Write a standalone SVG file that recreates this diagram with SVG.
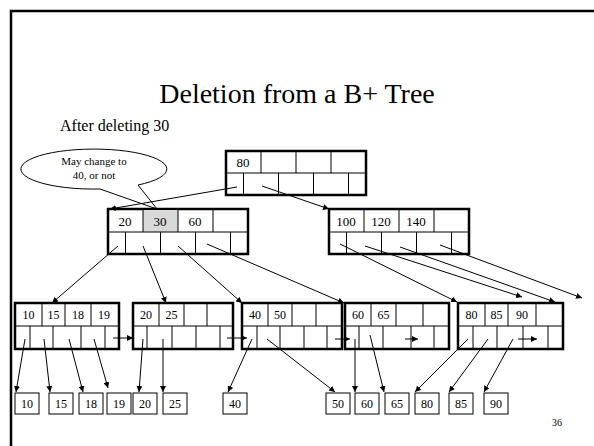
<svg xmlns="http://www.w3.org/2000/svg" width="594" height="446" viewBox="0 0 594 446">
<defs>
<style>
text{font-family:"Liberation Serif","Times New Roman",serif;fill:#000}
.k{font-size:12px;text-anchor:middle}
.ik{font-size:13px;text-anchor:middle}
.box{fill:#fff;stroke:#000;stroke-width:2.5}
.div{stroke:#000;stroke-width:1;fill:none}
.rec{fill:#fff;stroke:#000;stroke-width:1}
.c{stroke:#000;stroke-width:1;fill:none;marker-end:url(#ah)}
</style>
<marker id="ah" viewBox="0 0 10 10" refX="10" refY="5" markerWidth="6" markerHeight="6" markerUnits="userSpaceOnUse" orient="auto">
<path d="M0,0 L10,5 L0,10 z" fill="#000"/>
</marker>
</defs>
<rect width="594" height="446" fill="#fff"/>
<path d="M11,446 V11 H594" fill="none" stroke="#000" stroke-width="2.5"/>
<text x="297" y="103" style="font-size:28px" text-anchor="middle">Deletion from a B+ Tree</text>
<text x="60" y="131" style="font-size:16px">After deleting 30</text>

<g id="callout">
<path d="M138,185 L157,209 L100,189 A73,20 0 1 1 138,185 Z" fill="#fff" stroke="#000" stroke-width="1"/>
<text x="94" y="165" style="font-size:11px" text-anchor="middle">May change to</text>
<text x="94" y="179" style="font-size:11px" text-anchor="middle">40, or not</text>
</g>

<g id="root">
<rect class="box" x="226" y="151" width="140" height="44"/>
<path class="div" d="M226,173 H366 M261,151 V173 M296,151 V173 M331,151 V173 M243.5,173 V195 M278.5,173 V195 M313.5,173 V195 M348.5,173 V195"/>
<text class="ik" x="243" y="167">80</text>
</g>

<g id="inner-left">
<rect class="box" x="108" y="209" width="140" height="45"/>
<rect x="143" y="210" width="35" height="22" fill="#d9d9d9"/>
<path class="div" d="M108,232 H248 M143,209 V232 M178,209 V232 M213,209 V232 M125.5,232 V254 M160.5,232 V254 M195.5,232 V254 M230.5,232 V254"/>
<text class="ik" x="125" y="226">20</text>
<text class="ik" x="160" y="226">30</text>
<text class="ik" x="195" y="226">60</text>
</g>

<g id="inner-right">
<rect class="box" x="329" y="209" width="140" height="45"/>
<path class="div" d="M329,232 H469 M364,209 V232 M399,209 V232 M434,209 V232 M346.5,232 V254 M381.5,232 V254 M416.5,232 V254 M451.5,232 V254"/>
<text class="ik" x="346" y="226">100</text>
<text class="ik" x="381" y="226">120</text>
<text class="ik" x="416" y="226">140</text>
</g>

<g id="leaf1">
<rect class="box" x="15" y="303" width="104" height="46"/>
<path class="div" d="M15,326 H119 M42,303 V326 M65,303 V326 M91,303 V326 M30,326 V349 M53,326 V349 M81,326 V349 M105,326 V349"/>
<text class="k" x="28.5" y="319">10</text>
<text class="k" x="53.5" y="319">15</text>
<text class="k" x="78" y="319">18</text>
<text class="k" x="104" y="319">19</text>
</g>
<g id="leaf2">
<rect class="box" x="133" y="303" width="100" height="46"/>
<path class="div" d="M133,326 H233 M159,303 V326 M184,303 V326 M207,303 V326 M147,326 V349 M172,326 V349 M196,326 V349 M220,326 V349"/>
<text class="k" x="146" y="319">20</text>
<text class="k" x="171.5" y="319">25</text>
</g>
<g id="leaf3">
<rect class="box" x="242" y="303" width="100" height="46"/>
<path class="div" d="M242,326 H342 M268,303 V326 M292,303 V326 M316,303 V326 M257,326 V349 M280,326 V349 M304,326 V349 M327,326 V349"/>
<text class="k" x="255" y="319">40</text>
<text class="k" x="280" y="319">50</text>
</g>
<g id="leaf4">
<rect class="box" x="345" y="303" width="104" height="46"/>
<path class="div" d="M345,326 H449 M371,303 V326 M396,303 V326 M423,303 V326 M359,326 V349 M383,326 V349 M411,326 V349 M434,326 V349"/>
<text class="k" x="358" y="319">60</text>
<text class="k" x="383.5" y="319">65</text>
</g>
<g id="leaf5">
<rect class="box" x="458" y="303" width="105" height="46"/>
<path class="div" d="M458,326 H563 M485,303 V326 M508,303 V326 M536,303 V326 M473,326 V349 M497,326 V349 M523,326 V349 M548,326 V349"/>
<text class="k" x="471.5" y="319">80</text>
<text class="k" x="496.5" y="319">85</text>
<text class="k" x="522" y="319">90</text>
</g>

<g id="records">
<g id="r10"><rect class="rec" x="15" y="393" width="24" height="21"/><text class="k" x="27" y="408">10</text></g>
<g id="r15"><rect class="rec" x="49" y="393" width="24" height="21"/><text class="k" x="61" y="408">15</text></g>
<g id="r18"><rect class="rec" x="79" y="393" width="24" height="21"/><text class="k" x="91" y="408">18</text></g>
<g id="r19"><rect class="rec" x="107" y="393" width="24" height="21"/><text class="k" x="119" y="408">19</text></g>
<g id="r20"><rect class="rec" x="133" y="393" width="24" height="21"/><text class="k" x="145" y="408">20</text></g>
<g id="r25"><rect class="rec" x="163" y="393" width="24" height="21"/><text class="k" x="175" y="408">25</text></g>
<g id="r40"><rect class="rec" x="223" y="393" width="24" height="21"/><text class="k" x="235" y="408">40</text></g>
<g id="r50"><rect class="rec" x="326" y="393" width="24" height="21"/><text class="k" x="338" y="408">50</text></g>
<g id="r60"><rect class="rec" x="355" y="393" width="24" height="21"/><text class="k" x="367" y="408">60</text></g>
<g id="r65"><rect class="rec" x="385" y="393" width="24" height="21"/><text class="k" x="397" y="408">65</text></g>
<g id="r80"><rect class="rec" x="415" y="393" width="24" height="21"/><text class="k" x="427" y="408">80</text></g>
<g id="r85"><rect class="rec" x="449" y="393" width="24" height="21"/><text class="k" x="461" y="408">85</text></g>
<g id="r90"><rect class="rec" x="484" y="393" width="24" height="21"/><text class="k" x="496" y="408">90</text></g>
</g>

<g id="connectors">
<line class="c" x1="237" y1="187" x2="110" y2="209"/>
<line class="c" x1="262" y1="186" x2="329" y2="209"/>
<line class="c" x1="118" y1="246" x2="52" y2="303"/>
<line class="c" x1="143" y1="246" x2="166" y2="303"/>
<line class="c" x1="178" y1="246" x2="242" y2="303"/>
<line class="c" x1="207" y1="244" x2="344" y2="303"/>
<line class="c" x1="340" y1="244" x2="457" y2="302"/>
<line class="c" x1="365" y1="246" x2="522" y2="297"/>
<line class="c" x1="400" y1="247" x2="555" y2="302"/>
<line class="c" x1="440" y1="245" x2="582" y2="298"/>
<line class="c" x1="25" y1="339" x2="16" y2="392"/>
<line class="c" x1="44" y1="339" x2="50" y2="392"/>
<line class="c" x1="69" y1="339" x2="83" y2="392"/>
<line class="c" x1="94" y1="339" x2="108" y2="388"/>
<line class="c" x1="143" y1="339" x2="139" y2="392"/>
<line class="c" x1="163" y1="339" x2="163" y2="392"/>
<line class="c" x1="252" y1="339" x2="228" y2="392"/>
<line class="c" x1="267" y1="339" x2="335" y2="392"/>
<line class="c" x1="355" y1="339" x2="355" y2="392"/>
<line class="c" x1="370" y1="335" x2="384" y2="392"/>
<line class="c" x1="468" y1="339" x2="415" y2="392"/>
<line class="c" x1="488" y1="339" x2="449" y2="392"/>
<line class="c" x1="513" y1="339" x2="484" y2="392"/>
<line class="c" x1="113" y1="338" x2="133" y2="338"/>
<line class="c" x1="227" y1="338" x2="247" y2="338"/>
<line class="c" x1="335" y1="339" x2="350" y2="339"/>
<line class="c" x1="405" y1="339" x2="418" y2="339"/>
<line class="c" x1="518" y1="339" x2="537" y2="339"/>
</g>

<text x="552" y="426" style="font-size:10px">36</text>
</svg>
